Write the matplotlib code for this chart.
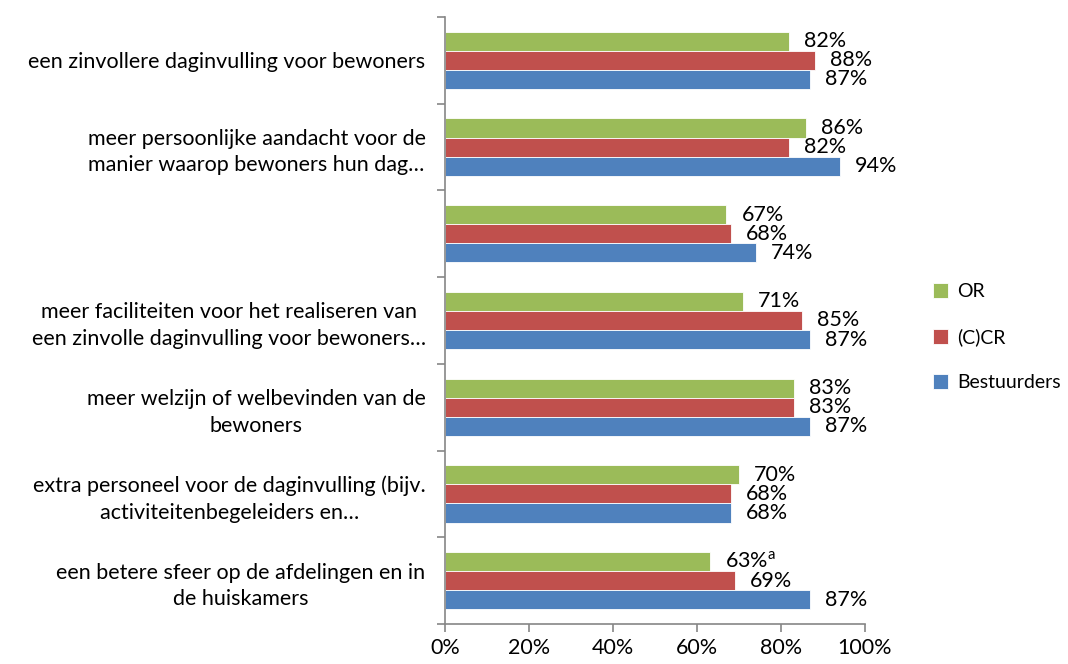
import matplotlib
matplotlib.use("Agg")
import matplotlib.pyplot as plt
import numpy as np

plt.rcParams["font.family"] = ["Lato", "DejaVu Sans"]

categories = [
    "een zinvollere daginvulling voor bewoners",
    "meer persoonlijke aandacht voor de\nmanier waarop bewoners hun dag…",
    "",
    "meer faciliteiten voor het realiseren van\neen zinvolle daginvulling voor bewoners…",
    "meer welzijn of welbevinden van de\nbewoners",
    "extra personeel voor de daginvulling (bijv.\nactiviteitenbegeleiders en…",
    "een betere sfeer op de afdelingen en in\nde huiskamers",
]
series_names = ["OR", "(C)CR", "Bestuurders"]
or_vals = [82, 86, 67, 71, 83, 70, 63]
ccr_vals = [88, 82, 68, 85, 83, 68, 69]
best_vals = [87, 94, 74, 87, 87, 68, 87]
or_notes = ["", "", "", "", "", "", "a"]
colors = ["#9BBB59", "#C0504D", "#4F81BD"]
xticks = [0, 20, 40, 60, 80, 100]

FS = 15.5

fig = plt.figure(figsize=(10.68, 6.64), dpi=100)
ax = fig.add_axes([445 / 1068, 1 - 624 / 664, 420 / 1068, 607 / 664])

y = np.arange(len(categories))
h = 0.22
offsets = [-h, 0, h]
all_vals = [or_vals, ccr_vals, best_vals]
for vals, off, col, name in zip(all_vals, offsets, colors, series_names):
    ax.barh(y + off, vals, height=h, color=col, edgecolor="white",
            linewidth=0.6, label=name)

for vals, off, k in zip(all_vals, offsets, range(3)):
    for i, v in enumerate(vals):
        txt = f"{v}%"
        if k == 0 and or_notes[i]:
            txt += "$^{\\mathregular{" + or_notes[i] + "}}$"
        ax.annotate(txt, (v, y[i] + off), xytext=(15, 0),
                    textcoords="offset pixels", va="center", ha="left",
                    fontsize=FS, color="black")

ax.set_ylim(len(categories) - 0.5, -0.5)
ax.set_xlim(0, 100)
ax.set_xticks(xticks, [f"{t}%" for t in xticks], fontsize=FS)

ax.set_yticks(y, categories, fontsize=FS)
for lab in ax.get_yticklabels():
    lab.set_multialignment("center")
    lab.set_linespacing(1.4)
ax.set_yticks(np.arange(-0.5, len(categories)), minor=True)
ax.tick_params(axis="y", which="major", length=0, pad=14)
ax.tick_params(axis="y", which="minor", length=6, color="#868686", width=1.2)
ax.tick_params(axis="x", length=6, color="#868686", width=1.2, pad=4)

for s in ["top", "right"]:
    ax.spines[s].set_visible(False)
for s in ["left", "bottom"]:
    ax.spines[s].set_color("#868686")
    ax.spines[s].set_linewidth(1.2)

ax.legend(loc="center left", bbox_to_anchor=(925 / 1068, 1 - 337 / 664),
          bbox_transform=fig.transFigure, frameon=False, fontsize=14,
          handlelength=0.8, handleheight=0.8, labelspacing=1.45,
          handletextpad=0.45, borderaxespad=0)

fig.savefig("out.png", dpi=100)
